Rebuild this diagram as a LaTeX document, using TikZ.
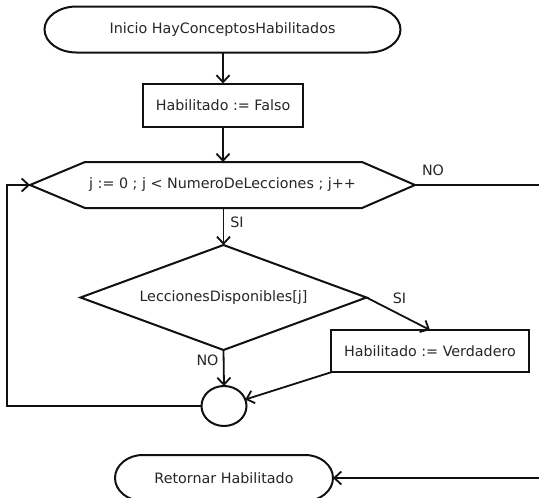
\documentclass[tikz,border=0pt]{standalone}
\usepackage{fontspec}
\setmainfont{DejaVu Sans}
\usetikzlibrary{arrows.meta,shapes.geometric}
\definecolor{ink}{HTML}{111111}
\definecolor{txt}{HTML}{262626}
\tikzset{
  base/.style={inner sep=0pt,outer sep=0pt,text=txt,font=\fontsize{14.3}{17}\selectfont},
  procbox/.style={base,draw=ink,line width=2pt},
  outlined/.style={base,draw=none},
  junction/.style={base,ellipse,draw=ink,line width=2pt},
  flow/.style={draw=ink,line width=1.8pt,-{Straight Barb[length=7pt,width=13pt]}},
  shapeline/.style={draw=ink,line width=2pt,line join=miter},
  lbl/.style={base,text=txt}
}
\newcommand\termoutline[3]{%
  \draw[shapeline] ([xshift=#2pt]#1.north west) -- ([xshift=-#2pt]#1.north east)
    arc[start angle=90,end angle=-90,x radius=#2pt,y radius=#3pt]
    -- ([xshift=#2pt]#1.south west)
    arc[start angle=270,end angle=90,x radius=#2pt,y radius=#3pt] -- cycle;}
\begin{document}
\begin{tikzpicture}[x=1pt,y=-1pt]
\clip (0,0) rectangle (539,498);
\fill[white] (0,0) rectangle (539,498);

\node[outlined,minimum width=356pt,minimum height=46pt] (s) at (222.5,29.5) {Inicio HayConceptosHabilitados};
\termoutline{s}{32}{23}

\node[procbox,minimum width=160pt,minimum height=43pt] (f) at (223,105) {Habilitado := Falso};

\node[outlined,minimum width=385pt,minimum height=46pt] (h) at (222.5,185) {j := 0 ; j < NumeroDeLecciones ; j++};
\draw[shapeline] (h.west) -- ([xshift=55pt]h.north west) -- ([xshift=-53pt]h.north east)
  -- (h.east) -- ([xshift=-53pt]h.south east) -- ([xshift=55pt]h.south west) -- cycle;

\node[outlined,minimum width=286pt,minimum height=105pt] (d) at (223.5,297.5) {LeccionesDisponibles[j]};
\draw[shapeline] (d.north) -- (d.east) -- (d.south) -- (d.west) -- cycle;

\node[procbox,minimum width=198pt,minimum height=42pt] (v) at (430,351) {Habilitado := Verdadero};

\node[junction,minimum width=45pt,minimum height=40pt] (c) at (224,406) {};

\node[outlined,minimum width=218pt,minimum height=46pt] (r) at (224,478) {Retornar Habilitado};
\termoutline{r}{28}{23}

% labels
\node[lbl] (noh) at (433,170) {NO};
\node[lbl] (sih) at (237,222) {SI};
\node[lbl] (sid) at (399.5,298) {SI};
\node[lbl] (nod) at (207.5,360) {NO};

% connectors
\draw[flow] (f.north |- s.south) -- (f.north);
\draw[flow] (f.south) -- (h.north -| f.south);
\draw[flow] (h.south -| d.north) -- (d.north);
\draw[flow] (d.east) -- (v.north);
\draw[flow] (d.south) -- (c.north);
\draw[flow] ([xshift=1pt]v.south west) -- (c.17);
\coordinate (lp) at (7,406);
\draw[flow] (c.west) -- (lp) |- (h.west);
\coordinate (rt) at (545,185);
\draw[flow] (h.east) -- (rt) |- (r.east);
\end{tikzpicture}
\end{document}
